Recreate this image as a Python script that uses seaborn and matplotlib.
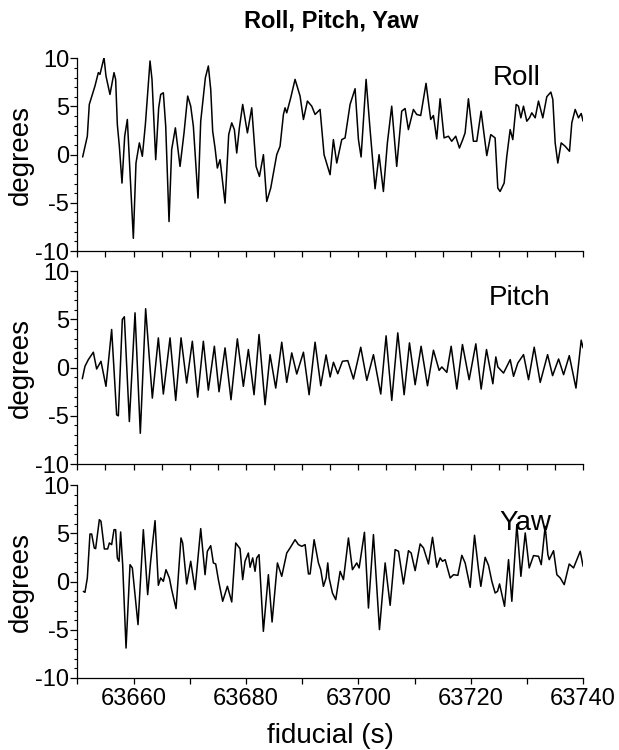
import numpy as np
import pandas as pd
import seaborn as sns
import matplotlib.pyplot as plt
from matplotlib.ticker import MultipleLocator

T0 = 63650

# seconds after T0, degrees
roll_t = [0.94, 1.77, 2.12, 3.13, 3.73, 4.02, 4.74, 5.09, 5.80, 6.52, 6.81, 7.11, 7.47, 7.94,
          8.42, 8.89, 9.37, 9.96, 10.43, 11.03, 11.56, 12.10, 12.93, 13.28, 13.94, 14.47, 14.83,
          15.30, 15.72, 16.31, 16.78, 17.44, 18.27, 18.98, 19.63, 20.17, 20.64, 21.47, 21.95,
          22.78, 23.31, 23.73, 24.08, 24.50, 24.91, 25.39, 26.28, 26.93, 27.47, 27.94, 28.36,
          28.83, 29.42, 30.26, 31.03, 31.80, 32.40, 33.11, 33.70, 34.41, 35.48, 36.07, 36.67,
          36.96, 37.26, 37.97, 38.74, 39.63, 40.23, 40.94, 41.71, 42.30, 43.19, 43.90, 44.97,
          45.56, 46.16, 47.05, 47.64, 48.53, 49.42, 50.02, 50.49, 51.38, 52.09, 52.98, 53.69,
          54.46, 55.17, 55.94, 56.83, 57.72, 58.32, 58.91, 59.80, 60.39, 61.10, 62.05, 62.88,
          63.36, 63.95, 64.55, 65.26, 66.03, 66.62, 67.33, 67.99, 68.58, 69.00, 69.59, 70.48,
          71.08, 71.85, 72.86, 73.57, 74.34, 74.82, 75.23, 75.95, 76.42, 77.02, 77.49, 78.09,
          78.50, 78.92, 79.39, 79.98, 80.46, 80.87, 81.47, 82.06, 82.83, 83.54, 84.26, 84.61,
          85.03, 85.50, 86.10, 86.81, 87.58, 87.99, 88.59, 89.18, 89.66, 90.0]
roll_deg = [-0.24, 1.91, 5.21, 7.12, 8.51, 8.33, 10.07, 8.16, 6.25, 8.51, 7.81, 3.13, 0.87, -2.95,
            1.91, 3.65, -1.91, -8.68, -0.87, 1.22, -0.17, 3.13, 9.72, 7.81, -0.52, 4.86, 6.25,
            6.42, 2.95, -6.94, 0.52, 2.78, -1.22, 2.26, 6.08, 5.03, 2.95, -4.51, 3.47,
            7.99, 9.20, 6.77, 2.43, 0.69, -1.39, -0.52, -5.03, 2.08, 3.30, 2.60, 0.17,
            2.78, 5.21, 2.26, 4.86, -1.22, -2.26, 0.0, -4.86, -3.47, 0.0, 0.87, 4.17,
            4.86, 4.34, 5.90, 7.81, 6.08, 3.65, 5.56, 5.03, 4.17, 4.69, 0.0, -2.08,
            1.56, -0.87, 1.56, 1.74, 5.21, 6.84, 1.56, -0.24, 7.81, 2.60, -3.54, 0.0,
            -3.82, 1.22, 5.03, -1.22, 4.51, 4.79, 2.60, 4.69, 4.17, 4.06, 7.40, 3.65,
            4.06, 1.63, 5.80, 1.74, 1.91, 1.39, 1.91, 0.69, 1.56, 2.26, 5.80, 1.39,
            1.39, 4.51, -0.10, 2.08, 1.74, -3.47, -3.82, -2.95, -0.17, 2.60, 1.56, 5.21,
            5.03, 3.82, 5.03, 3.47, 3.82, 4.34, 3.82, 5.56, 3.82, 6.01, 6.49, 5.73,
            1.22, -0.87, 1.22, 0.87, 0.35, 3.30, 4.69, 3.82, 4.27, 3.47]

pitch_t = [0.88, 1.35, 1.95, 2.84, 3.43, 4.20, 5.09, 6.10, 6.99, 7.29, 8.00, 8.36, 9.25, 10.26,
           11.20, 12.15, 13.34, 14.41, 15.30, 16.49, 17.50, 18.45, 19.45, 20.46, 21.41, 22.42,
           23.31, 24.38, 25.21, 26.28, 27.34, 28.47, 29.54, 30.43, 31.44, 32.33, 33.40, 34.29,
           35.30, 36.37, 37.26, 38.15, 39.04, 40.23, 41.24, 42.30, 43.31, 44.26, 44.98, 45.57,
           46.34, 47.17, 48.12, 49.13, 50.43, 51.51, 52.69, 53.99, 54.94, 55.95, 57.02, 58.15,
           59.10, 60.11, 61.17, 62.31, 63.37, 64.38, 64.86, 65.75, 66.52, 67.53, 68.53, 69.72,
           70.91, 71.86, 72.81, 73.94, 74.47, 74.83, 75.84, 77.03, 77.62, 78.39, 79.40, 80.29,
           81.30, 82.37, 83.68, 84.57, 85.64, 86.53, 87.54, 88.73, 89.66, 90.0]
pitch_deg = [-1.15, 0.14, 0.83, 1.60, -0.14, 0.66, -1.94, 3.96, -4.90, -5.00, 5.00, 5.28, -5.59, 5.69,
             -6.81, 6.11, -3.16, 3.09, -2.74, 3.09, -3.40, 3.09, -1.60, 2.74, -3.06, 2.74,
             -2.33, 2.22, -2.50, 2.05, -3.33, 2.99, -1.94, 1.88, -2.81, 3.44, -3.85, 1.35,
             -2.12, 2.64, -1.53, 1.53, -0.66, 1.60, -2.81, 2.64, -1.88, 1.32, -0.97, 0.56,
             -0.63, 0.66, 0.73, -1.18, 2.12, -1.32, 1.35, -2.74, 3.30, -3.40, 3.61, -2.81,
             2.57, -1.77, 2.22, -1.88, 1.81, -0.28, 0.07, -0.49, 2.22, -2.22, 2.40, -1.25,
             2.47, -2.22, 1.88, -1.67, 1.11, 0.07, -0.56, 0.83, -0.90, 0.49, 1.35, -1.25,
             2.12, -1.53, 1.35, -0.83, 0.90, -0.73, 1.25, -2.12, 2.85, 2.05]

yaw_t = [1.06, 1.35, 1.77, 2.24, 2.54, 3.01, 3.25, 3.91, 4.20, 4.80, 5.39, 5.69, 6.10, 6.52, 6.81,
         7.11, 7.41, 7.70, 8.06, 8.66, 9.37, 9.78, 10.79, 11.74, 12.51, 13.04, 13.82, 14.41,
         14.83, 15.30, 15.77, 16.37, 16.78, 17.56, 18.44, 18.74, 19.45, 20.17, 20.94, 21.95,
         22.72, 23.13, 23.73, 24.20, 24.62, 25.09, 25.86, 26.70, 27.47, 28.18, 28.95, 29.42,
         29.84, 30.43, 30.73, 31.20, 31.62, 31.92, 32.33, 33.10, 33.99, 34.65, 35.60, 36.37,
         37.26, 37.85, 38.74, 39.34, 39.93, 40.53, 41.12, 41.42, 42.13, 42.90, 43.31, 43.79,
         44.26, 44.56, 44.80, 45.39, 45.98, 46.76, 47.35, 48.24, 48.95, 49.72, 50.14, 51.09,
         51.80, 52.69, 53.76, 54.77, 55.66, 56.55, 57.15, 58.03, 58.92, 59.40, 60.11, 61.00,
         61.60, 62.48, 63.20, 63.97, 64.56, 64.98, 65.45, 66.34, 66.94, 67.71, 68.42, 69.01,
         69.90, 70.68, 71.39, 71.80, 72.57, 73.17, 73.76, 74.35, 74.77, 75.13, 76.02, 76.73,
         77.32, 78.21, 78.93, 79.70, 80.41, 81.18, 82.07, 82.55, 83.25, 83.73, 83.97, 84.74,
         85.33, 85.93, 86.64, 87.53, 88.30, 88.89, 89.49, 90.0]
yaw_deg = [-1.01, -1.11, 0.38, 4.94, 4.94, 3.48, 3.42, 6.43, 6.26, 3.39, 3.39, 4.01, 3.84, 5.39, 5.39,
           2.45, 2.11, 5.15, 1.76, -6.89, 1.76, 1.42, -4.46, 5.39, -1.35, 2.11, 6.33, -0.38,
           0.38, 0.03, 1.24, 0.38, -0.83, -2.80, 4.53, 4.01, -0.24, 2.11, -0.83, 5.50,
           0.72, 3.15, 3.73, 1.94, 1.83, 0.21, -2.04, -0.48, -2.11, 4.01, 3.42, 0.21,
           2.11, 2.97, 1.49, 2.46, 1.07, 2.46, 2.80, -5.16, 0.72, -4.19, 1.94, 0.55,
           2.97, 3.49, 4.35, 3.84, 3.66, 3.84, 0.80, 0.80, 4.35, 1.94, 1.24, -0.49,
           0.38, 1.94, 0.38, -1.18, -1.87, 1.07, 0.20, 4.53, 1.24, 1.94, 1.42, 5.12,
           -2.74, 4.88, -4.98, 1.94, -2.46, 3.32, 3.15, -0.24, 3.21, 2.97, 1.14, 3.91,
           3.49, 1.83, 4.60, 1.49, 2.46, 2.11, 2.28, 0.38, 0.72, 0.65, 2.73, 1.94,
           -0.59, 4.81, 1.24, -0.49, 2.52, 1.69, 0.03, -1.18, -1.01, -0.24, -2.56, 2.28,
           -2.04, 5.92, 0.55, 5.05, 1.42, 2.70, 2.63, 1.76, 5.74, 2.80, 2.28, 3.21,
           0.72, 0.38, -0.31, 1.83, 1.42, 2.28, 3.15, 1.59]

series = [("Roll", roll_t, roll_deg, (74.0, 7.19)),
          ("Pitch", pitch_t, pitch_deg, (73.15, 6.46)),
          ("Yaw", yaw_t, yaw_deg, (75.05, 5.39))]

sns.set_style("ticks")
plt.rcParams['font.family'] = ['Liberation Sans', 'DejaVu Sans']
plt.rcParams['axes.unicode_minus'] = False
for key in ['axes.edgecolor', 'xtick.color', 'ytick.color', 'text.color', 'axes.labelcolor']:
    plt.rcParams[key] = 'black'

fig = plt.figure(figsize=(6.19, 7.5), dpi=100)
bottoms = [0.6653, 0.3813, 0.096]

for i, (name, t, deg, pos) in enumerate(series):
    ax = fig.add_axes([0.125, bottoms[i], 0.817, 0.257])
    df = pd.DataFrame({"fiducial": np.array(t) + T0, "deg": deg})
    sns.lineplot(data=df, x="fiducial", y="deg", ax=ax, color="black", lw=1.1,
                 sort=False, estimator=None)
    ax.set_xlim(T0, T0 + 90)
    ax.set_ylim(-10, 10)
    sns.despine(ax=ax)
    for s in ["left", "bottom"]:
        ax.spines[s].set_linewidth(0.9)
    ax.yaxis.set_major_locator(MultipleLocator(5))
    ax.yaxis.set_minor_locator(MultipleLocator(1))
    ax.tick_params(axis="y", which="major", length=5, width=0.9, labelsize=17, pad=1)
    ax.tick_params(axis="y", which="minor", length=2.5, width=0.8)
    if i < 2:
        ax.xaxis.set_major_locator(MultipleLocator(5))
        ax.tick_params(axis="x", which="major", length=4, width=0.9, labelbottom=False)
        ax.set_xlabel("")
    else:
        ax.xaxis.set_major_locator(MultipleLocator(20))
        ax.xaxis.set_minor_locator(MultipleLocator(10))
        ax.tick_params(axis="x", which="both", length=4, width=0.9, labelsize=17, pad=3)
        ax.set_xlabel("fiducial (s)", fontsize=20)
        ax.xaxis.set_label_coords(0.5, -0.235)
    ax.set_ylabel("degrees", fontsize=20)
    ax.yaxis.set_label_coords(-0.087, 0.5)
    ax.text(T0 + pos[0], pos[1], name, fontsize=20, ha="left", va="baseline")

fig.text(331 / 619, 1 - 21 / 750, "Roll, Pitch, Yaw", fontsize=17, fontweight="bold",
         ha="center", va="center")

fig.savefig("out.png", dpi=100)
